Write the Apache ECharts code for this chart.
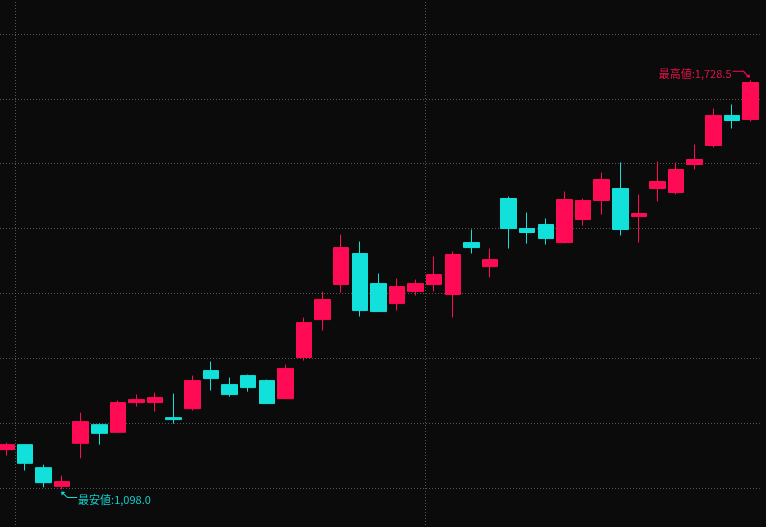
<!DOCTYPE html>
<html>
<head>
<meta charset="utf-8">
<script src="https://cdn.jsdelivr.net/npm/echarts@6/dist/echarts.min.js"></script>
<style>
  html, body { margin: 0; padding: 0; background: #0b0b0b; overflow: hidden; width: 766px; height: 527px; }
  /* 描画領域を少し外側に広げて、画面端で切れるようにする */
  #chart { position: absolute; left: -3.4px; top: -31.4px; width: 769.4px; height: 583.7px; }
</style>
</head>
<body>
<div id="chart"></div>
<script>
  // 日付（ラベルは非表示、月替わりで縦線）
  var dates = [
    '2024/06/28',
    '2024/07/01', '2024/07/02', '2024/07/03', '2024/07/04', '2024/07/05',
    '2024/07/08', '2024/07/09', '2024/07/10', '2024/07/11', '2024/07/12',
    '2024/07/16', '2024/07/17', '2024/07/18', '2024/07/19', '2024/07/22',
    '2024/07/23', '2024/07/24', '2024/07/25', '2024/07/26', '2024/07/29',
    '2024/07/30', '2024/07/31',
    '2024/08/01', '2024/08/02', '2024/08/05', '2024/08/06', '2024/08/07',
    '2024/08/08', '2024/08/09', '2024/08/13', '2024/08/14', '2024/08/15',
    '2024/08/16', '2024/08/19', '2024/08/20', '2024/08/21', '2024/08/22',
    '2024/08/23', '2024/08/26', '2024/08/27'
  ];
  // 始値・終値・安値・高値
  var opens  = [1159.3, 1167.0, 1131.5, 1102.7, 1169.0, 1197.8, 1186.0, 1231.8, 1231.8, 1208.6,
                1222.5, 1281.1, 1259.5, 1273.4, 1265.7, 1237.9, 1301.2, 1359.7, 1413.7, 1461.5,
                1415.2, 1384.4, 1402.9, 1413.7, 1398.3, 1478.4, 1441.4, 1546.3, 1500.0, 1506.2,
                1478.4, 1513.9, 1543.2, 1561.7, 1518.5, 1561.7, 1555.5, 1598.7, 1628.0, 1674.3,
                1668.1];
  var closes = [1167.0, 1138.2, 1108.4, 1110.0, 1202.5, 1184.4, 1231.8, 1236.4, 1239.5, 1205.6,
                1265.7, 1268.8, 1244.1, 1254.9, 1230.3, 1284.2, 1355.1, 1390.6, 1470.7, 1373.6,
                1372.1, 1410.6, 1415.2, 1429.1, 1460.0, 1470.7, 1452.2, 1500.0, 1493.9, 1484.6,
                1544.8, 1543.2, 1575.6, 1498.5, 1523.2, 1572.5, 1591.0, 1606.4, 1674.3, 1666.5,
                1725.1];
  var lows   = [1150.0, 1127.0, 1101.2, 1098.0, 1145.9, 1167.0, 1185.5, 1225.6, 1217.9, 1199.4,
                1219.4, 1250.3, 1241.0, 1248.7, 1229.5, 1237.9, 1296.5, 1342.8, 1401.4, 1364.4,
                1372.1, 1373.6, 1396.7, 1402.9, 1362.8, 1461.5, 1424.5, 1469.2, 1476.9, 1475.4,
                1476.9, 1504.7, 1521.6, 1489.3, 1478.4, 1541.7, 1552.5, 1591.0, 1624.9, 1654.2,
                1665.0];
  var highs  = [1170.1, 1167.5, 1136.2, 1119.2, 1216.3, 1199.8, 1234.9, 1244.1, 1247.2, 1245.6,
                1273.4, 1295.0, 1270.3, 1275.0, 1267.2, 1290.4, 1362.8, 1402.9, 1490.8, 1480.0,
                1430.7, 1422.9, 1421.4, 1456.9, 1464.6, 1498.5, 1469.2, 1549.4, 1524.7, 1515.5,
                1557.1, 1546.3, 1586.4, 1601.8, 1552.5, 1603.3, 1601.8, 1629.5, 1685.1, 1691.2,
                1728.5];

  var upColor = '#ff0a55';
  var downColor = '#12e0da';

  var candles = [];
  for (var i = 0; i < dates.length; i++) {
    candles.push([opens[i], closes[i], lows[i], highs[i]]);
  }

  function fmt(v) {
    return Number(v).toLocaleString('en-US', {minimumFractionDigits: 1, maximumFractionDigits: 1});
  }

  var chart = echarts.init(document.getElementById('chart'));
  chart.setOption({
    backgroundColor: '#0b0b0b',
    animation: false,
    grid: {left: 0, right: 6.2, top: 0, bottom: 0, containLabel: false},
    xAxis: {
      type: 'category',
      data: dates,
      boundaryGap: true,
      axisLine: {show: false},
      axisTick: {show: false},
      axisLabel: {show: false},
      splitLine: {
        show: true,
        showMaxLine: false,
        interval: function (index) {
          return index > 0 && index < dates.length &&
            dates[index].slice(0, 7) !== dates[index - 1].slice(0, 7);
        },
        lineStyle: {color: '#555555', width: 1, type: [1, 2]}
      }
    },
    yAxis: {
      type: 'value',
      min: 1000,
      max: 1900,
      interval: 100,
      axisLine: {show: false},
      axisTick: {show: false},
      axisLabel: {show: false},
      splitLine: {show: true, lineStyle: {color: '#555555', width: 1, type: [1, 2]}}
    },
    series: [{
      type: 'candlestick',
      data: candles,
      barWidth: 16,
      itemStyle: {
        color: upColor,
        color0: downColor,
        borderColor: upColor,
        borderColor0: downColor,
        borderWidth: 1
      },
      markPoint: {
        silent: true,
        data: [
          {
            name: '最高値',
            type: 'max',
            valueDim: 'highest',
            symbol: 'path://M0,0L11.4,0L16,5.3L15.3,6L10.6,1L0,1ZM17.5,7L13.5,6.3L16.8,3.3Z',
            symbolSize: [17.5, 7],
            symbolOffset: [-9.25, -6],
            itemStyle: {color: upColor},
            label: {
              show: true,
              position: 'left',
              distance: 1,
              color: '#e8124c',
              fontSize: 11,
              fontFamily: '"Noto Sans CJK JP", "Noto Sans", sans-serif',
              formatter: function (p) { return '最高値:' + fmt(p.value); }
            }
          },
          {
            name: '最安値',
            type: 'min',
            valueDim: 'lowest',
            symbol: 'path://M0,0L4,0.6L0.6,4ZM2.5,1.8L6.6,5.5L16,5.5L16,6.5L6.2,6.5L1.8,2.5Z',
            symbolSize: [16, 6.5],
            symbolOffset: [7, 5.25],
            itemStyle: {color: downColor},
            label: {
              show: true,
              position: 'right',
              distance: 1,
              offset: [0, 4.75],
              color: '#14cfca',
              fontSize: 11,
              fontFamily: '"Noto Sans CJK JP", "Noto Sans", sans-serif',
              formatter: function (p) { return '最安値:' + fmt(p.value); }
            }
          }
        ]
      }
    }]
  });
</script>
</body>
</html>
